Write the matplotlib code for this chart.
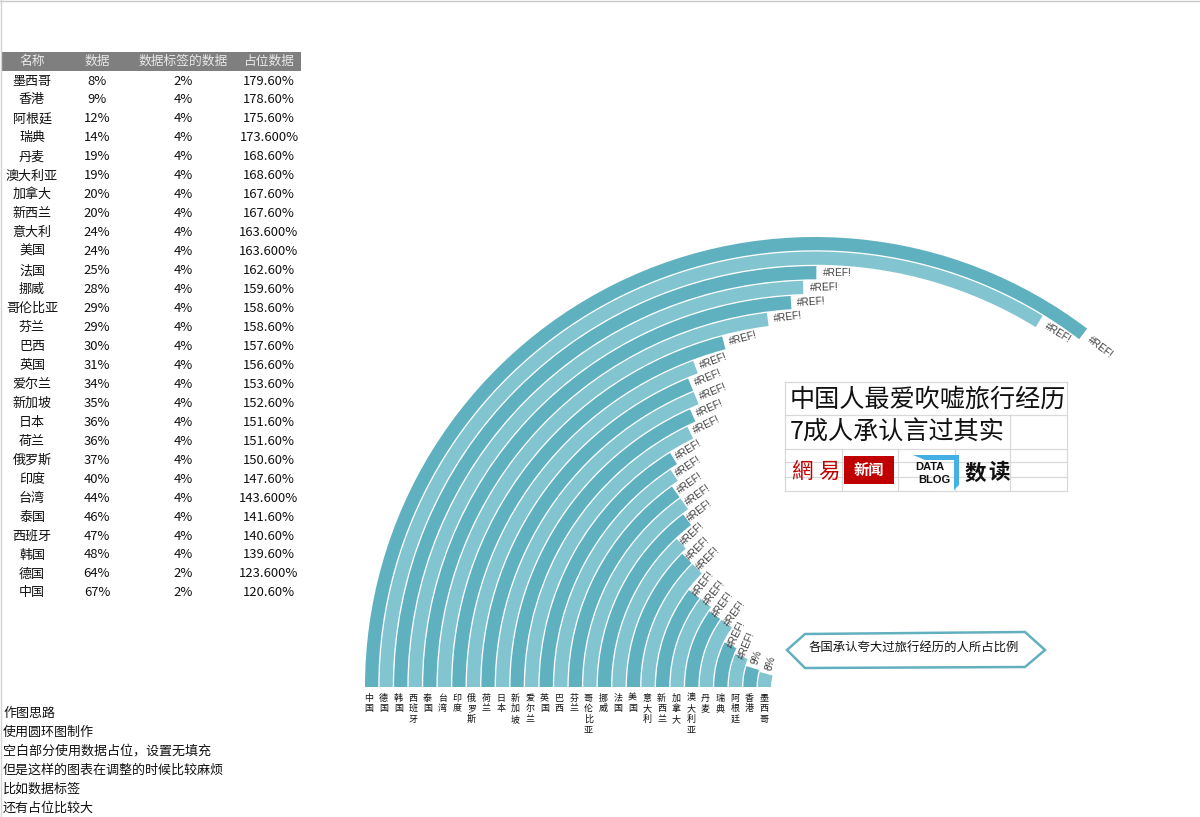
import matplotlib
matplotlib.use('Agg')
import matplotlib.pyplot as plt
import numpy as np
from matplotlib.patches import Rectangle, Polygon

plt.rcParams['font.family'] = ['Noto Sans CJK SC', 'DejaVu Sans']

# table data, top row first
names = ['墨西哥', '香港', '阿根廷', '瑞典', '丹麦', '澳大利亚', '加拿大', '新西兰', '意大利', '美国',
         '法国', '挪威', '哥伦比亚', '芬兰', '巴西', '英国', '爱尔兰', '新加坡', '日本', '荷兰',
         '俄罗斯', '印度', '台湾', '泰国', '西班牙', '韩国', '德国', '中国']
values = [8, 9, 12, 14, 19, 19, 20, 20, 24, 24, 25, 28, 29, 29, 30, 31, 34, 35, 36, 36,
          37, 40, 44, 46, 47, 48, 64, 67]
label_values = [2, 4, 4, 4, 4, 4, 4, 4, 4, 4, 4, 4, 4, 4, 4, 4, 4, 4, 4, 4,
                4, 4, 4, 4, 4, 4, 2, 2]
spacer_text = ['179.60%', '178.60%', '175.60%', '173.600%', '168.60%', '168.60%', '167.60%',
               '167.60%', '163.600%', '163.600%', '162.60%', '159.60%', '158.60%', '158.60%',
               '157.60%', '156.60%', '153.60%', '152.60%', '151.60%', '151.60%', '150.60%',
               '147.60%', '143.600%', '141.60%', '140.60%', '139.60%', '123.600%', '120.60%']
spacers = [float(s[:-1]) for s in spacer_text]
ring_labels = ['8%', '9%'] + ['#REF!'] * 26
headers = ['名称', '数据', '数据标签的数据', '占位数据']
notes = ['作图思路', '使用圆环图制作', '空白部分使用数据占位，设置无填充',
         '但是这样的图表在调整的时候比较麻烦', '比如数据标签', '还有占位比较大']

H = 817


def Y(y):
    # picture pixels count from the top, the axes from the bottom
    return H - y


fig = plt.figure(figsize=(12, 8.17), dpi=100)
ax = fig.add_axes([0, 0, 1, 1])

# rings, outermost is the last table row
cx, cy = 815, 687
outer = 450
pitch = 14.55
gap = 1.3
dark = '#60b1c0'
light = '#82c5d0'
text_grey = '#404040'

n = len(names)
for i in range(n):
    k = n - 1 - i
    r = outer - i * pitch
    color = dark if i % 2 == 0 else light
    ax.pie([values[k], label_values[k], spacers[k]],
           colors=[color, 'none', 'none'], radius=r, center=(cx, Y(cy)),
           startangle=180, counterclock=False,
           wedgeprops={'width': pitch - gap, 'linewidth': 0})

    # data label just past the end of the ring
    total = values[k] + label_values[k] + spacers[k]
    sweep = values[k] / total * 360
    mid_r = r - (pitch - gap) / 2
    offset = np.degrees((10 + 0.027 * mid_r) / mid_r)
    ang = np.radians(180 - sweep - offset)
    lx = cx + mid_r * np.cos(ang)
    ly = Y(cy) + mid_r * np.sin(ang)
    ax.text(lx, ly, ring_labels[k], fontsize=7.3, color=text_grey, rotation=90 - sweep,
            rotation_mode='anchor', ha='center', va='center', family=['Liberation Sans', 'DejaVu Sans'])
    if ring_labels[k] != '#REF!':
        end = np.radians(180 - sweep - 4)
        ax.plot([cx + mid_r * np.cos(end), cx + (mid_r + 4) * np.cos(ang)],
                [Y(cy) + mid_r * np.sin(end), Y(cy) + (mid_r + 4) * np.sin(ang) - 6],
                color='#a6a6a6', lw=0.6)

    # category name under the ring, one character per line
    for j, ch in enumerate(names[k]):
        ax.text(369 + i * 14.63, Y(698 + j * 10.7), ch, fontsize=6.5,
                color='#111111', ha='center', va='center')

ax.set_xlim(0, 1200)
ax.set_ylim(0, H)
ax.set_aspect('auto')
ax.axis('off')

# sheet edges
ax.plot([0, 1200], [Y(0.5), Y(0.5)], color='#c8c8c8', lw=1)
ax.plot([0.5, 0.5], [Y(0), Y(H)], color='#d4d4d4', lw=1)

# table on the left
col_x = [32, 97, 183, 269]
ax.add_patch(Rectangle((1, Y(71)), 300, 19, facecolor='#7f7f7f', edgecolor='none'))
for x, h in zip(col_x, headers):
    ax.text(x, Y(61.5), h, fontsize=9.2, color='#e8e8e8', ha='center', va='center')
for i in range(n):
    y = Y(81 + i * 18.96)
    ax.text(col_x[0], y, names[i], fontsize=9.4, color='#111111', ha='center', va='center')
    ax.text(col_x[1], y, f'{values[i]}%', fontsize=9.4, color='#111111', ha='center', va='center')
    ax.text(col_x[2], y, f'{label_values[i]}%', fontsize=9.4, color='#111111', ha='center', va='center')
    ax.text(col_x[3], y, spacer_text[i], fontsize=9.4, color='#111111', ha='center', va='center')

# notes
for i, s in enumerate(notes):
    ax.text(3, Y(713 + i * 19), s, fontsize=9.4, color='#111111', ha='left', va='center')

# title block with sheet gridlines
grid = '#d9d9d9'
for y in [382, 415, 449, 462, 477, 491]:
    ax.plot([785, 1067], [Y(y), Y(y)], color=grid, lw=0.9)
ax.plot([785, 785], [Y(382), Y(491)], color=grid, lw=0.9)
ax.plot([1067, 1067], [Y(382), Y(491)], color=grid, lw=0.9)
ax.plot([1010, 1010], [Y(415), Y(491)], color=grid, lw=0.9)
for x in [842, 898, 955]:
    ax.plot([x, x], [Y(449), Y(491)], color=grid, lw=0.9)

ax.text(790, Y(400), '中国人最爱吹嘘旅行经历', fontsize=18.1, color='#111111', ha='left', va='center')
ax.text(790, Y(433), '7成人承认言过其实', fontsize=18.1, color='#111111', ha='left', va='center')

ax.text(791, Y(472), '網', fontsize=15.5, color='#c00000', ha='left', va='center',
        family=['Noto Sans CJK TC', 'DejaVu Sans'])
ax.text(818, Y(472), '易', fontsize=15.5, color='#c00000', ha='left', va='center',
        family=['Noto Sans CJK TC', 'DejaVu Sans'])
ax.add_patch(Rectangle((844, Y(484)), 50, 28, facecolor='#c00000', edgecolor='none', zorder=3))
ax.text(869, Y(470), '新闻', fontsize=11, color='white', ha='center', va='center', zorder=4, fontweight='bold')

ax.add_patch(Polygon([(913, Y(455)), (959, Y(455)), (959, Y(485)), (954, Y(490)), (954, Y(460)), (925, Y(460))],
                     closed=True, facecolor='#45b0e3', edgecolor='none', zorder=3))
ax.text(930, Y(467), 'DATA', fontsize=8, color='#111111', ha='center', va='center', zorder=4,
        family=['Liberation Sans', 'DejaVu Sans'], fontweight='bold')
ax.text(934, Y(480), 'BLOG', fontsize=8, color='#111111', ha='center', va='center', zorder=4,
        family=['Liberation Sans', 'DejaVu Sans'], fontweight='bold')
ax.text(975, Y(473), '数', fontsize=15.5, color='#111111', ha='center', va='center', fontweight='bold')
ax.text(999, Y(473), '读', fontsize=15.5, color='#111111', ha='center', va='center', fontweight='bold')

# callout
ax.add_patch(Polygon([(787, Y(650)), (805, Y(634)), (1025, Y(632)), (1045, Y(650)), (1025, Y(667)), (805, Y(668))],
                     closed=True, facecolor='white', edgecolor='#62b0bf', linewidth=1.8))
ax.text(914, Y(648), '各国承认夸大过旅行经历的人所占比例', fontsize=8.9, color='#111111', ha='center', va='center')

fig.savefig('out.png', dpi=100, facecolor='white')
